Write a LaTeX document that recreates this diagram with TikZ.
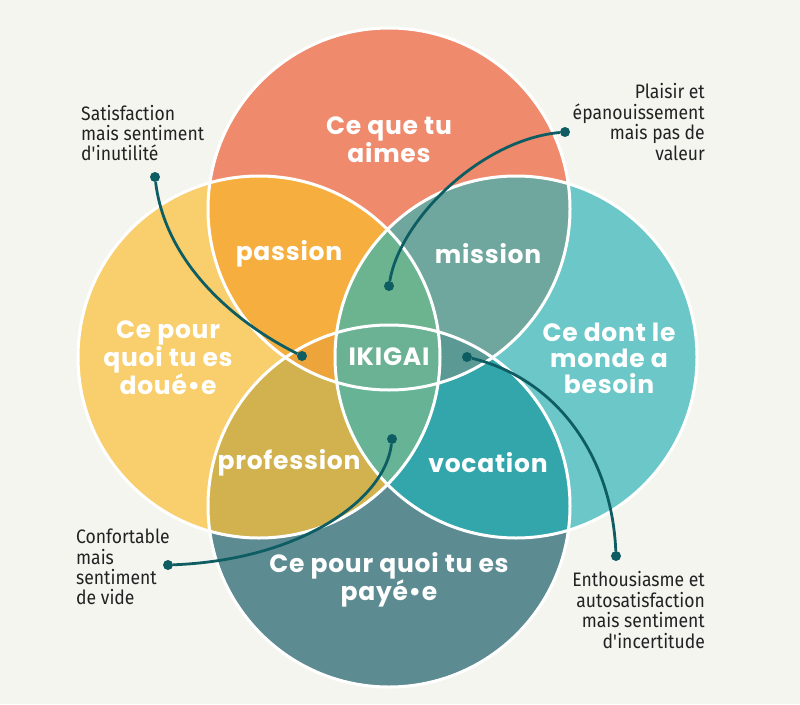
\documentclass[tikz,border=0pt]{standalone}
\usepackage{fontspec}
\setmainfont{Fira Sans}[FakeStretch=0.9]
\newfontfamily\titlefont{Poppins}[LetterSpace=3]

\definecolor{paper}{HTML}{F5F5F0}
\definecolor{salmon}{HTML}{EF8A6C}
\definecolor{sunny}{HTML}{F9CE6C}
\definecolor{lagoon}{HTML}{6CC8C8}
\definecolor{slate}{HTML}{5D8B92}
\definecolor{passionc}{HTML}{F6AE3E}
\definecolor{missionc}{HTML}{6FA79F}
\definecolor{professionc}{HTML}{D1B24F}
\definecolor{vocationc}{HTML}{33A6AC}
\definecolor{tlrc}{HTML}{6CB390}
\definecolor{tlbc}{HTML}{EDA43A}
\definecolor{trbc}{HTML}{5B9994}
\definecolor{lrbc}{HTML}{66B396}
\definecolor{ikigaic}{HTML}{6BB294}
\definecolor{linkteal}{HTML}{0E5D63}
\definecolor{notegray}{HTML}{222222}

\tikzstyle{bigLabel} = [text=white, font=\titlefont\bfseries\fontsize{25}{26}\selectfont, align=center, inner sep=0pt]
\tikzstyle{noteText} = [text=notegray, font=\fontsize{19.5}{20.4}\selectfont, inner sep=0pt]
\tikzstyle{ring} = [draw=white, line width=3pt]
\tikzstyle{dotNode} = [circle, inner sep=0pt, minimum size=10pt, fill=linkteal]
\tikzstyle{link} = [draw=linkteal, line width=2.8pt]

\begin{document}
\begin{tikzpicture}[x=1pt, y=-1pt, node distance=199pt]
    \fill[paper] (0,0) rectangle (800,704);
    \useasboundingbox (0,0) rectangle (800,704);

    \coordinate (top_c) at (389,209);
    \coordinate (left_c) at (259,357);
    \coordinate (right_c) at (516,357);
    \coordinate (bottom_c) at (389,506);

    % the four discs
    \fill[salmon] (top_c) circle (181pt);
    \fill[sunny] (left_c) circle (181pt);
    \fill[lagoon] (right_c) circle (181pt);
    \fill[slate] (bottom_c) circle (181pt);

    % overlaps of two
    \begin{scope}
        \clip (top_c) circle (181pt);
        \fill[passionc] (left_c) circle (181pt);
        \fill[missionc] (right_c) circle (181pt);
    \end{scope}
    \begin{scope}
        \clip (bottom_c) circle (181pt);
        \fill[professionc] (left_c) circle (181pt);
        \fill[vocationc] (right_c) circle (181pt);
    \end{scope}

    % overlaps of three and four
    \begin{scope}
        \clip (top_c) circle (181pt);
        \clip (left_c) circle (181pt);
        \fill[tlrc] (right_c) circle (181pt);
        \fill[tlbc] (bottom_c) circle (181pt);
    \end{scope}
    \begin{scope}
        \clip (right_c) circle (181pt);
        \clip (bottom_c) circle (181pt);
        \fill[trbc] (top_c) circle (181pt);
        \fill[lrbc] (left_c) circle (181pt);
    \end{scope}
    \begin{scope}
        \clip (top_c) circle (181pt);
        \clip (left_c) circle (181pt);
        \clip (right_c) circle (181pt);
        \fill[ikigaic] (bottom_c) circle (181pt);
    \end{scope}

    \draw[ring] (top_c) circle (181pt);
    \draw[ring] (left_c) circle (181pt);
    \draw[ring] (right_c) circle (181pt);
    \draw[ring] (bottom_c) circle (181pt);

    % labels in the discs
    \node (love)[bigLabel] at (389,140) {Ce que tu\\aimes};
    \node (good_at)[bigLabel] at (168,358) {Ce pour\\quoi tu es\\doué•e};
    \node (world_needs)[bigLabel] at (609,358) {Ce dont le\\monde a\\besoin};
    \node (paid_for)[bigLabel] at (389,580) {Ce pour quoi tu es\\payé•e};
    \node (ikigai)[bigLabel] at (389,357) {IKIGAI};
    \node (passion)[bigLabel] at (289,254) {passion};
    \node (mission)[bigLabel, right of=passion] {mission};
    \node (profession)[bigLabel, below of=passion, yshift=-9.5pt] {profession};
    \node (vocation)[bigLabel, right of=profession] {vocation};

    % side notes
    \node (note_passion)[noteText, anchor=west, align=left] at (81,133) {Satisfaction\\mais sentiment\\d\textquotesingle inutilité};
    \node (note_mission)[noteText, anchor=east, align=right] at (705,122) {Plaisir et\\épanouissement\\mais pas de\\valeur};
    \node (note_profession)[noteText, anchor=west, align=left] at (76,567) {Confortable\\mais\\sentiment\\de vide};
    \node (note_vocation)[noteText, anchor=east, align=right] at (705,610) {Enthousiasme et\\autosatisfaction\hspace*{0.35em}\\mais sentiment\\d\textquotesingle incertitude};

    % dots and links
    \node (dot_sat)[dotNode] at (155,177) {};
    \node (dot_sat_end)[dotNode] at (302,356) {};
    \node (dot_plai)[dotNode] at (565,132) {};
    \node (dot_plai_end)[dotNode] at (389,286) {};
    \node (dot_conf)[dotNode] at (168,565) {};
    \node (dot_conf_end)[dotNode] at (392,439) {};
    \node (dot_enth_end)[dotNode] at (467,357) {};
    \node (dot_enth)[dotNode] at (616,556) {};

    \draw[link] (dot_sat) .. controls (165,260) and (230,320) .. (dot_sat_end);
    \draw[link] (dot_plai) .. controls (480,140) and (400,220) .. (dot_plai_end);
    \draw[link] (dot_conf) .. controls (300,560) and (385,500) .. (dot_conf_end);
    \draw[link] (dot_enth_end) .. controls (560,380) and (612,460) .. (dot_enth);
\end{tikzpicture}
\end{document}
